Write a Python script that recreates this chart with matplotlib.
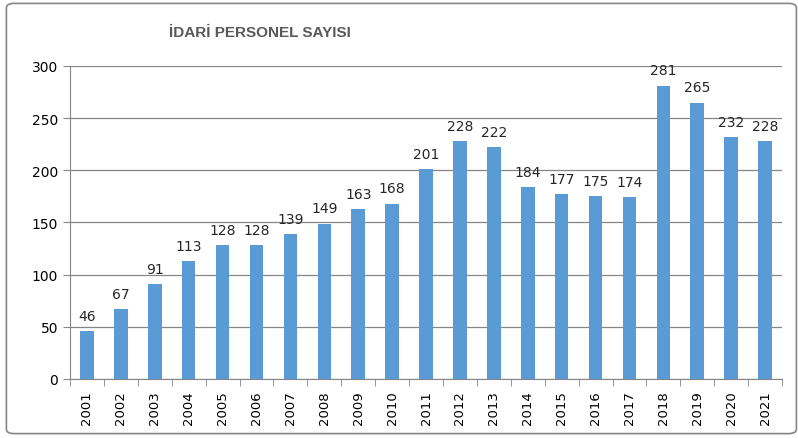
import matplotlib.pyplot as plt
from matplotlib.patches import FancyBboxPatch

# data
years = [str(y) for y in range(2001, 2022)]
counts = [46, 67, 91, 113, 128, 128, 139, 149, 163, 168, 201,
          228, 222, 184, 177, 175, 174, 281, 265, 232, 228]
yticks = [0, 50, 100, 150, 200, 250, 300]

fig = plt.figure(figsize=(7.98, 4.39), dpi=100)
ax = fig.add_axes([0.0877, 0.1344, 0.8923, 0.713])

x = range(len(years))
ax.bar(x, counts, width=0.4, color='#5B9BD5', zorder=3)

# value labels above bars
for i, v in enumerate(counts):
    ax.text(i, v + 8, str(v), ha='center', va='bottom', fontsize=10,
            color='#262626', zorder=4)

ax.set_xlim(-0.5, len(years) - 0.5)
ax.set_ylim(0, 300)
ax.set_yticks(yticks)
ax.set_xticks(list(x))
ax.set_xticklabels(years, rotation=90, fontsize=9.5)
ax.tick_params(axis='y', labelsize=10, length=5, color='#868686')
ax.tick_params(axis='x', length=0, pad=8)
# minor ticks between categories
ax.set_xticks([i - 0.5 for i in range(len(years) + 1)], minor=True)
ax.tick_params(axis='x', which='minor', length=5, color='#868686')

ax.grid(axis='y', color='#868686', linewidth=0.9, zorder=0)
for s in ['top', 'right']:
    ax.spines[s].set_visible(False)
for s in ['left', 'bottom']:
    ax.spines[s].set_color('#868686')

fig.text(0.326, 0.925, 'İDARİ PERSONEL SAYISI', ha='center', va='center',
         fontsize=11, fontweight='bold', color='#595959',
         family=['Liberation Sans', 'DejaVu Sans'])

# outer border
border = FancyBboxPatch((0.008, 0.01), 0.99, 0.98,
                        boxstyle='round,pad=0,rounding_size=0.01',
                        transform=fig.transFigure, fill=False,
                        edgecolor='#868686', linewidth=1.2)
fig.patches.append(border)

fig.savefig('out.png', dpi=100)
